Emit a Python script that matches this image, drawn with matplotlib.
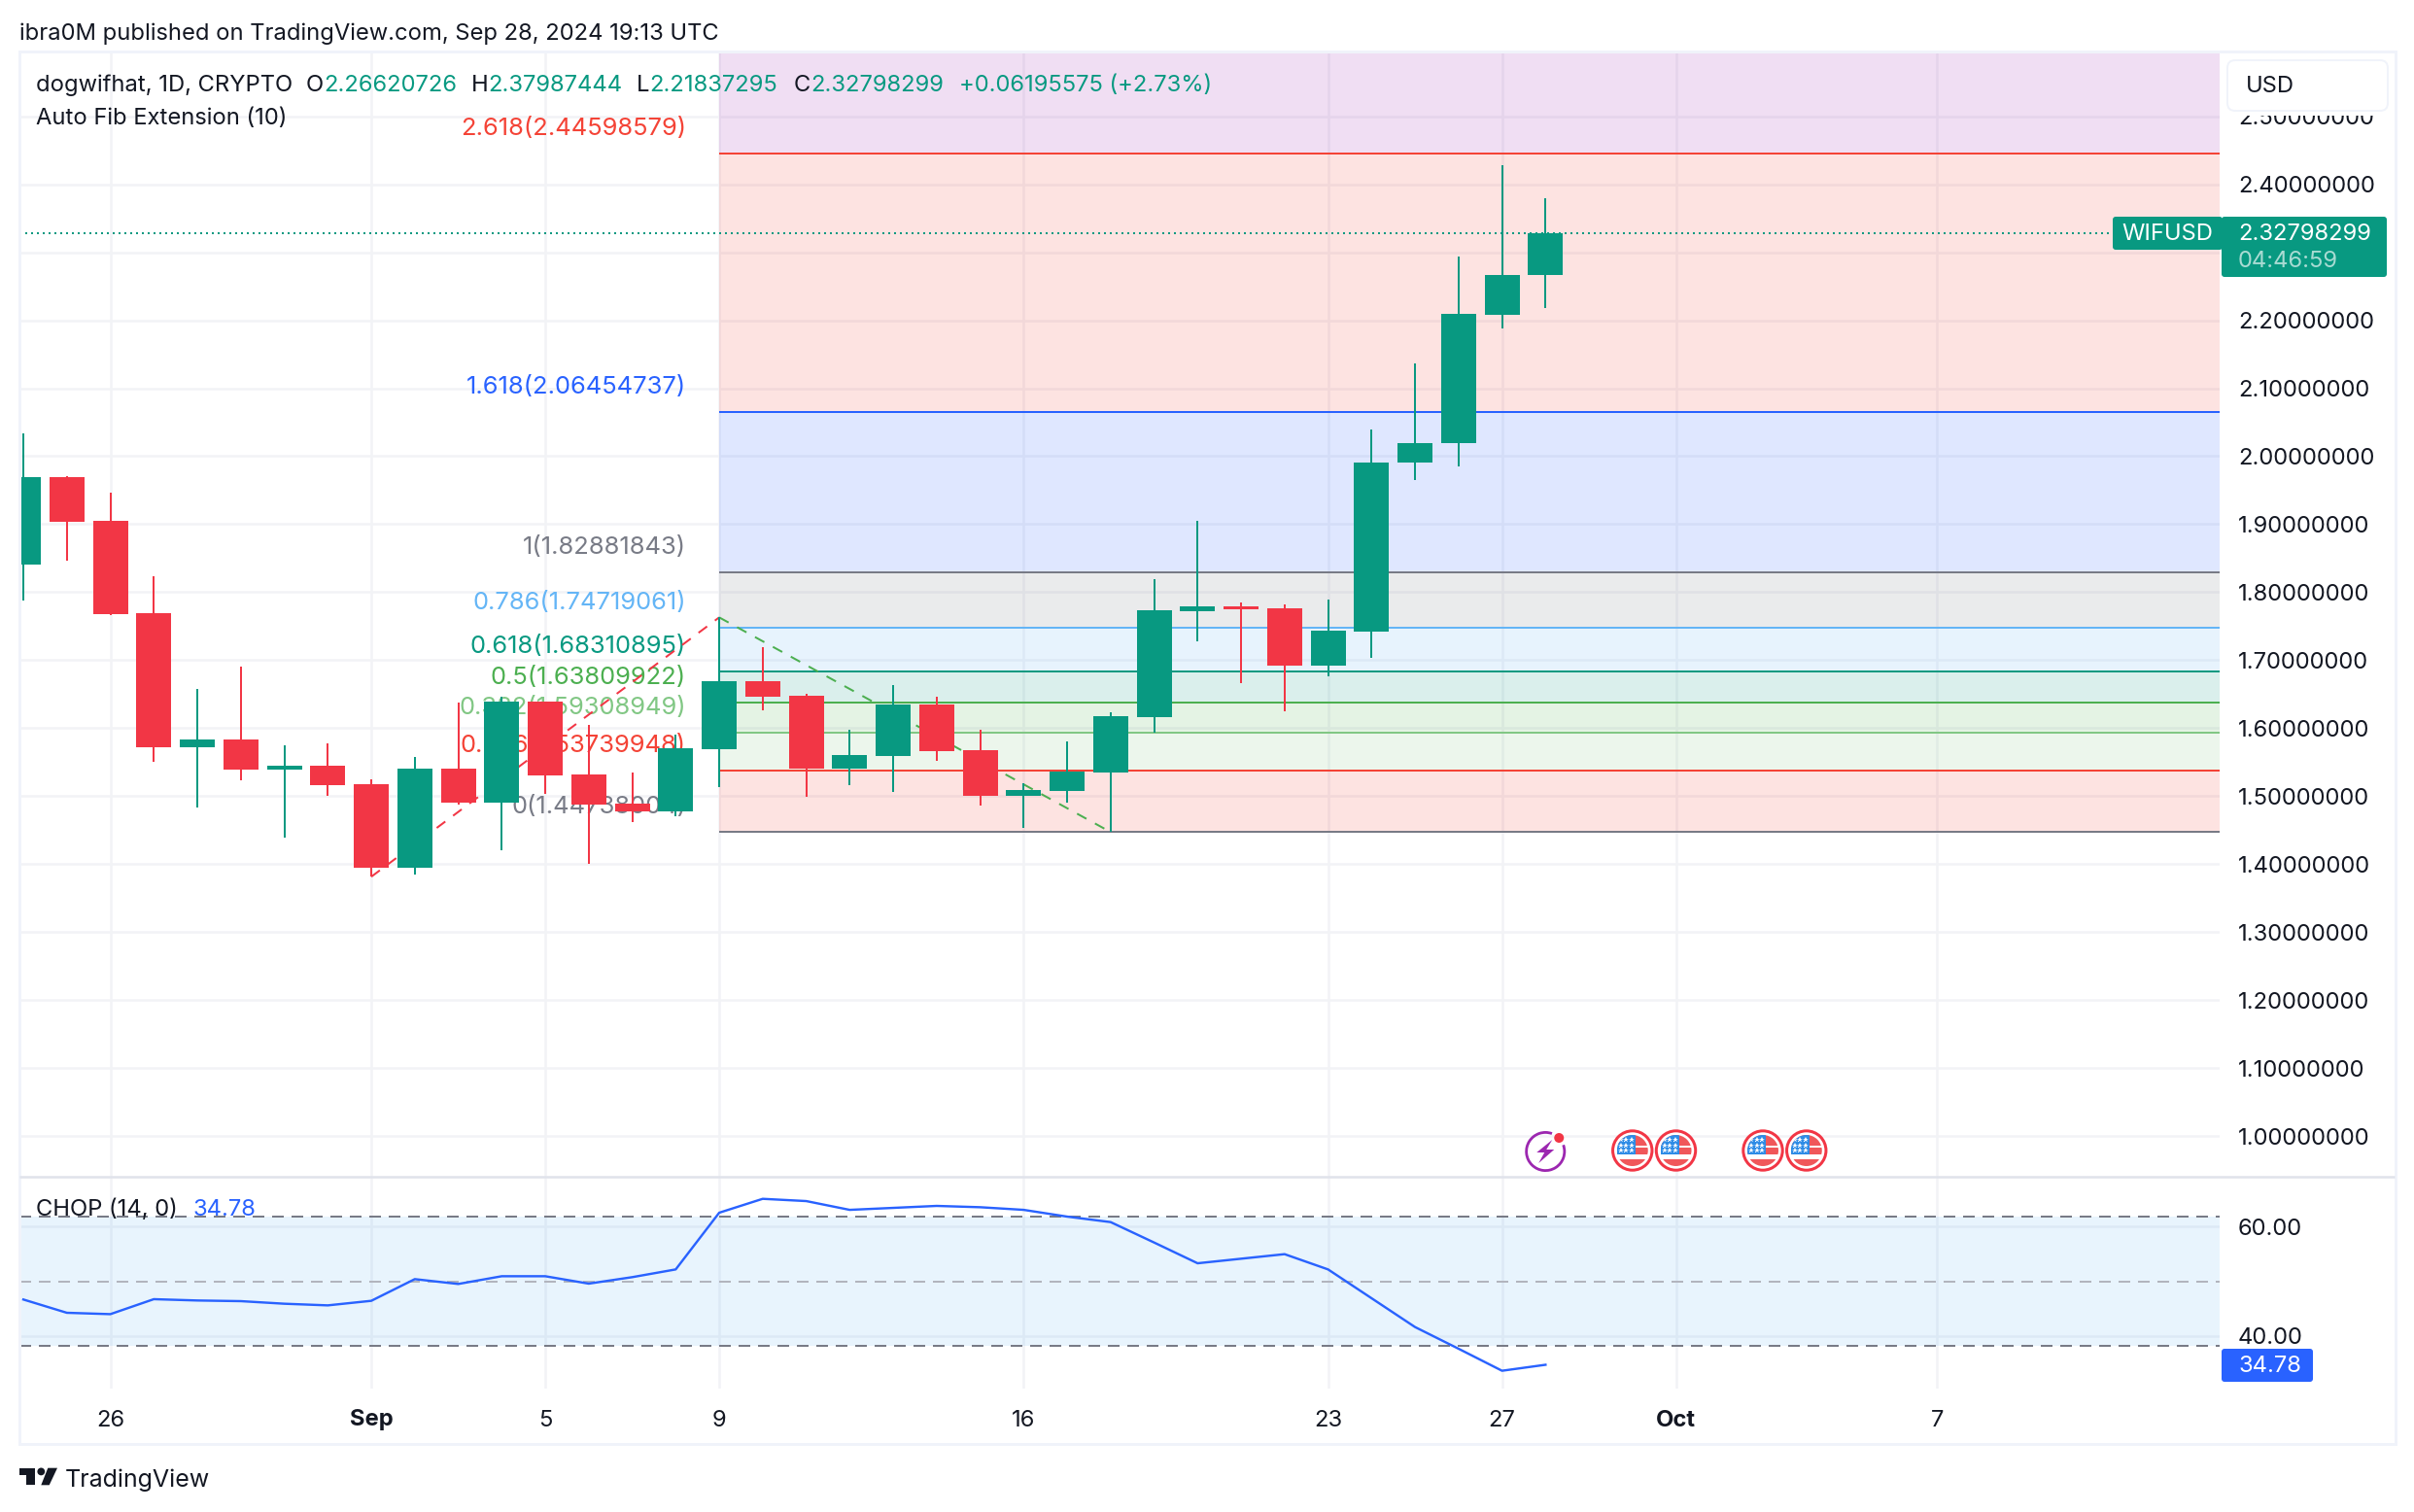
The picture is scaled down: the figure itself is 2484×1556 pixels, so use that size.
import matplotlib
matplotlib.use('Agg')
import matplotlib.pyplot as plt
from matplotlib.patches import Circle, FancyBboxPatch, Polygon, Rectangle, Wedge

plt.rcParams['font.family'] = ['Inter', 'DejaVu Sans']

# days counted from Sep 1
days = list(range(-8, 28))
opens = [1.8405, 1.9686, 1.9043, 1.7686, 1.5714, 1.5829, 1.5386, 1.5443, 1.5171, 1.3943, 1.54, 1.49,
         1.6386, 1.5314, 1.4886, 1.4771, 1.5686, 1.6686, 1.6471, 1.54, 1.5586, 1.6343, 1.5671, 1.5,
         1.5071, 1.5343, 1.6157, 1.7714, 1.7786, 1.7757, 1.6914, 1.7414, 1.99, 2.0186, 2.2086, 2.26620726]
closes = [1.9686, 1.9029, 1.7671, 1.5714, 1.5829, 1.5386, 1.5443, 1.5157, 1.3943, 1.54, 1.49, 1.6386,
          1.53, 1.4871, 1.4771, 1.57, 1.6686, 1.6457, 1.54, 1.56, 1.6343, 1.5657, 1.5, 1.5086,
          1.5357, 1.6171, 1.7729, 1.7786, 1.7743, 1.6914, 1.7429, 1.9914, 2.02, 2.21, 2.2671, 2.32798299]
highs = [2.0329, 1.97, 1.9471, 1.8229, 1.6571, 1.69, 1.5743, 1.5771, 1.5243, 1.5571, 1.6371, 1.6457,
         1.6386, 1.6043, 1.5343, 1.59, 1.7629, 1.7186, 1.65, 1.5971, 1.6629, 1.6457, 1.5971, 1.5186,
         1.58, 1.6229, 1.8186, 1.9043, 1.7843, 1.7814, 1.7886, 2.04, 2.1371, 2.2943, 2.4286, 2.37987444]
lows = [1.7876, 1.8457, 1.7662, 1.55, 1.4829, 1.5229, 1.4386, 1.5, 1.3814, 1.3843, 1.4871, 1.42,
        1.5029, 1.4, 1.4614, 1.47, 1.5129, 1.6257, 1.4986, 1.5157, 1.5057, 1.5514, 1.4857, 1.4529,
        1.49, 1.4471, 1.5929, 1.7271, 1.6657, 1.6243, 1.6757, 1.7029, 1.9643, 1.9857, 2.1886, 2.21837295]
chop = [46.67, 44.25, 44.0, 46.73, 46.49, 46.37, 45.9, 45.6, 46.43, 50.38, 49.5, 50.91,
        50.91, 49.56, 50.74, 52.15, 62.48, 65.01, 64.6, 63.0, 63.36, 63.72, 63.48, 63.0,
        61.77, 60.77, 57.05, 53.27, 54.1, 54.93, 52.15, 46.9, 41.65, 37.7, 33.69, 34.78]

fib_ratios = ['2.618', '1.618', '1', '0.786', '0.618', '0.5', '0.382', '0.236', '0']
fib_prices = [2.44598579, 2.06454737, 1.82881843, 1.74719061, 1.68310895, 1.63809922, 1.59308949, 1.53739948, 1.44738004]
fib_labels = ['2.44598579', '2.06454737', '1.82881843', '1.74719061', '1.68310895', '1.63809922', '1.59308949', '1.53739948', '1.44738004']
fib_colors = ['#F44336', '#2962FF', '#787B86', '#64B5F6', '#089981', '#4CAF50', '#81C784', '#F44336', '#787B86']
fill_colors = ['#9C27B0', '#F44336', '#2962FF', '#787B86', '#64B5F6', '#089981', '#4CAF50', '#81C784', '#F44336']

price_ticks = [1.0, 1.1, 1.2, 1.3, 1.4, 1.5, 1.6, 1.7, 1.8, 1.9, 2.0, 2.1, 2.2, 2.3, 2.4, 2.5]
date_ticks = [-6, 0, 4, 8, 15, 22, 26, 30, 36]
date_labels = ['26', 'Sep', '5', '9', '16', '23', '27', 'Oct', '7']
chop_ticks = [40, 60]
chop_bands = [61.8, 50, 38.2]
swing_days = [0, 8, 17]
swing_prices = [1.3814, 1.7629, 1.4471]
flag_days = [29, 30, 32, 33]
bolt_day = 27

UP = '#089981'
DOWN = '#F23645'
INK = '#131722'
GRID = '#F2F3F6'
FS = 17.1
W, H = 2484, 1556


def pw(n):
    # pixels to points
    return n * 72 / 100


def pane(left, top, right, bottom):
    return fig.add_axes([left / W, 1 - bottom / H, (right - left) / W, (bottom - top) / H])


fig = plt.figure(figsize=(24.84, 15.56), dpi=100)
ax = pane(20, 53, 2284, 1211)
ax2 = pane(20, 1211, 2284, 1429)
xl, xr = -8.09, 42.5

# main pane, the 2.3 label sits behind the price badge so it stays blank
ax.set_xlim(xl, xr)
ax.set_ylim(0.94, 2.5954)
ax.set_yticks(price_ticks, ['' if p == 2.3 else '%.8f' % p for p in price_ticks])
ax.set_xticks(date_ticks)
ax.yaxis.tick_right()
ax.tick_params(axis='y', length=0, pad=pw(19), labelsize=FS, labelcolor=INK)
ax.tick_params(axis='x', length=0, labelbottom=False)
ax.grid(True, color=GRID, lw=pw(2.5))
ax.set_axisbelow(True)
for s in ax.spines.values():
    s.set_visible(False)

# fib zones, levels and labels
tops = [ax.get_ylim()[1]] + fib_prices[:-1]
for top, bot, c in zip(tops, fib_prices, fill_colors):
    ax.fill_between([8, xr], bot, top, color=c, alpha=0.15, lw=0, zorder=1)
for r, p, lab, c in zip(fib_ratios, fib_prices, fib_labels, fib_colors):
    ax.plot([8, xr], [p, p], color=c, lw=pw(2), zorder=2, solid_capstyle='butt')
    ax.annotate('%s(%s)' % (r, lab), xy=(8, p), xytext=(-34, 25.5), textcoords='offset pixels',
                ha='right', va='center', color=c, fontsize=18.4, zorder=2)
ax.plot(swing_days[:2], swing_prices[:2], color='#F23645', lw=pw(2), ls=(0, (5.5, 5)), zorder=2)
ax.plot(swing_days[1:], swing_prices[1:], color='#4CAF50', lw=pw(2), ls=(0, (5.5, 5)), zorder=2)

# last price line
ax.plot([xl, 39.95], [closes[-1], closes[-1]], color=UP, lw=pw(2), ls=(0, (1, 2)), zorder=2,
        dash_capstyle='butt')

# candles
for d, o, c, hi, lo in zip(days, opens, closes, highs, lows):
    col = UP if c >= o else DOWN
    ax.vlines(d, lo, hi, color=col, lw=pw(2), zorder=3)
    ax.bar(d, abs(c - o), bottom=min(o, c), width=0.804, color=col, lw=0, zorder=4)

# chop pane
ax2.set_xlim(xl, xr)
ax2.set_ylim(30.44, 69.03)
ax2.axhspan(chop_bands[2], chop_bands[0], color='#2196F3', alpha=0.1, lw=0, zorder=1)
ax2.axhline(chop_bands[0], color='#787B86', lw=pw(2), ls=(0, (6, 4)), zorder=2)
ax2.axhline(chop_bands[1], color='#B2B5BE', lw=pw(2), ls=(0, (6, 4)), zorder=2)
ax2.axhline(chop_bands[2], color='#787B86', lw=pw(2), ls=(0, (6, 4)), zorder=2)
ax2.plot(days, chop, color='#2962FF', lw=pw(2.4), zorder=3)
ax2.set_yticks(chop_ticks, ['%.2f' % v for v in chop_ticks])
ax2.set_xticks(date_ticks, date_labels)
ax2.yaxis.tick_right()
ax2.tick_params(axis='y', length=0, pad=pw(19), labelsize=FS, labelcolor=INK)
ax2.tick_params(axis='x', length=0, pad=pw(21.5), labelsize=FS, labelcolor=INK)
for lab in ax2.get_xticklabels():
    if lab.get_text() in ('Sep', 'Oct'):
        lab.set_fontweight('bold')
ax2.grid(True, color=GRID, lw=pw(2.5))
ax2.set_axisbelow(True)
for s in ax2.spines.values():
    s.set_visible(False)

# overlay in picture pixels for the TradingView furniture
top = fig.add_axes([0, 0, 1, 1], zorder=10)
top.set_xlim(0, W)
top.set_ylim(H, 0)
top.axis('off')
top.patch.set_alpha(0)

top.add_patch(Rectangle((19.5, 53), 2445, 1433, fc='none', ec='#F0F3FA', lw=pw(3)))
top.plot([20, 2464], [1211, 1211], color='#E0E3EB', lw=pw(2.5), solid_capstyle='butt')

# header
top.text(20, 35, 'ibra0M published on TradingView.com, Sep 28, 2024 19:13 UTC', fontsize=FS,
         color=INK, va='center')
top.text(37, 88, 'dogwifhat, 1D, CRYPTO', fontsize=FS, color=INK, va='center')
top.text(37, 122, 'Auto Fib Extension (10)', fontsize=FS, color=INK, va='center')
for x, s in zip([315, 485, 655, 817], ['O', 'H', 'L', 'C']):
    top.text(x, 88, s, fontsize=FS, color=INK, va='center')
for x, s in zip([333, 502, 668, 834, 987],
                ['2.26620726', '2.37987444', '2.21837295', '2.32798299', '+0.06195575 (+2.73%)']):
    top.text(x, 88, s, fontsize=FS, color=UP, va='center')
top.text(37, 1245, 'CHOP (14, 0)', fontsize=FS, color=INK, va='center')
top.text(199, 1245, '34.78', fontsize=FS, color='#2962FF', va='center')

# price scale furniture
top.add_patch(Rectangle((2286, 55), 177, 64, fc='white', ec='none'))
top.add_patch(FancyBboxPatch((2298, 68), 153, 40, boxstyle='round,pad=6,rounding_size=8', fc='white',
                             ec='#F0F3FA', lw=pw(2)))
top.text(2311, 89, 'USD', fontsize=FS, color=INK, va='center')
top.add_patch(FancyBboxPatch((2177, 226), 107, 28, boxstyle='round,pad=3,rounding_size=3', fc=UP, ec='none'))
top.text(2183, 241, 'WIFUSD', fontsize=FS, color='white', va='center')
top.add_patch(FancyBboxPatch((2289, 226), 164, 56, boxstyle='round,pad=3,rounding_size=3', fc=UP, ec='none'))
top.text(2303, 241, '2.32798299', fontsize=FS, color='white', va='center')
top.text(2303, 269, '04:46:59', fontsize=FS, color='white', alpha=0.65, va='center')
top.add_patch(FancyBboxPatch((2289, 1391), 88, 28, boxstyle='round,pad=3,rounding_size=3', fc='#2962FF', ec='none'))
top.text(2303.5, 1406, '34.78', fontsize=FS, color='white', va='center')


def day_px(d):
    return 382 + 44.75 * d


# economic event icons
for d in flag_days:
    cx, cy = day_px(d), 1184
    disc = Circle((cx, cy), 16, transform=top.transData)
    top.add_patch(Circle((cx, cy), 20.2, fc='white', ec='#F23645', lw=pw(3)))
    shapes = [Rectangle((cx - 16, cy - 16), 32, 11, fc='#F0575A', ec='none'),
              Rectangle((cx - 16, cy - 3), 32, 7, fc='#F0575A', ec='none'),
              Rectangle((cx - 16, cy + 9), 32, 8, fc='#F0575A', ec='none'),
              Rectangle((cx - 16, cy - 16), 19, 20, fc='#2E8CE6', ec='none')]
    for sh in shapes:
        top.add_patch(sh)
        sh.set_clip_path(disc)
    for row in range(3):
        for col in range(3):
            star = top.plot(cx - 12 + col * 5.5, cy - 11 + row * 5.5, marker='*', ms=pw(6), color='white', mew=0)[0]
            star.set_clip_path(disc)

cx, cy = day_px(bolt_day), 1185
top.add_patch(Wedge((cx, cy), 21, -20, 290, width=2.8, fc='#9C27B0', ec='none'))
top.add_patch(Polygon([(cx + 7, cy - 12), (cx - 9, cy + 1), (cx - 1, cy + 1), (cx - 7, cy + 12),
                       (cx + 9, cy - 2), (cx + 1, cy - 2)], fc='#9C27B0', ec='none'))
top.add_patch(Circle((cx + 14, cy - 14), 5, fc='#F23645', ec='none'))

# logo
top.add_patch(Polygon([(20, 1510.7), (36, 1510.7), (36, 1528.3), (27.3, 1528.3), (27.3, 1518.3), (20, 1518.3)],
                      fc=INK, ec='none'))
top.add_patch(Circle((42.3, 1514.4), 3.9, fc=INK, ec='none'))
top.add_patch(Polygon([(49.3, 1510.7), (59, 1510.7), (50.7, 1528.3), (42.3, 1528.3)], fc=INK, ec='none'))
top.text(67, 1523, 'TradingView', fontsize=18, color=INK, va='center')

fig.savefig('out.png', dpi=100, facecolor='white')
